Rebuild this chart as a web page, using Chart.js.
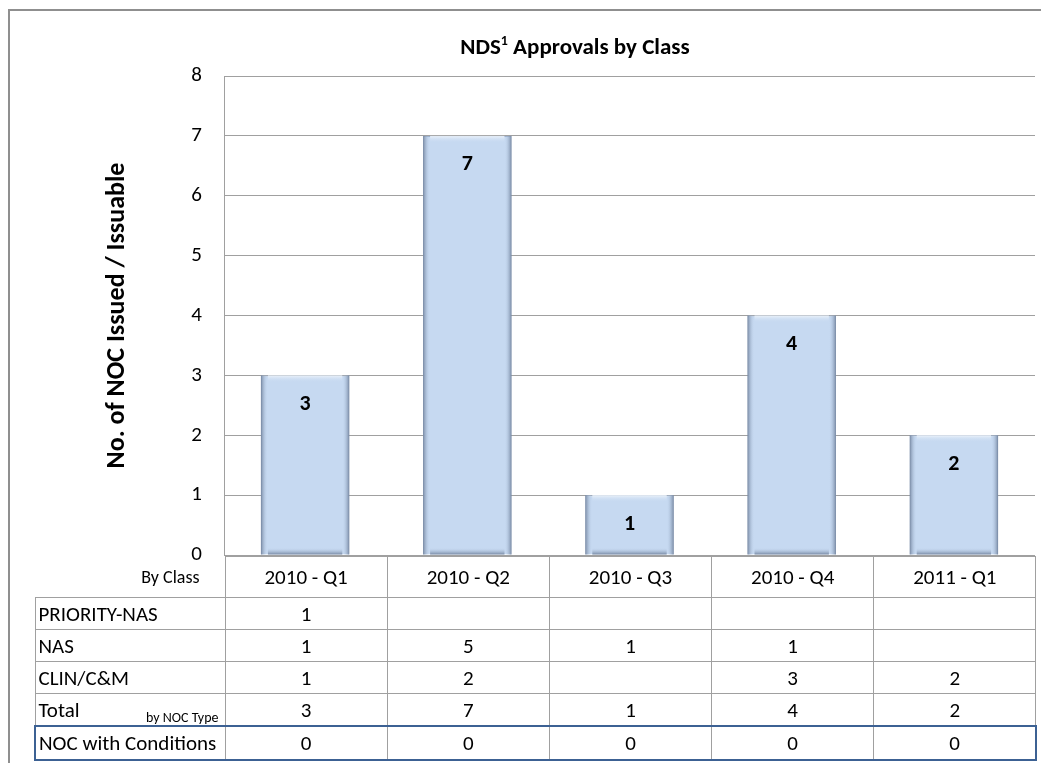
<!DOCTYPE html>
<html>
<head>
<meta charset="utf-8">
<script src="https://cdn.jsdelivr.net/npm/chart.js@4/dist/chart.umd.min.js"></script>
<style>
  html, body { margin: 0; padding: 0; background: #fff; }
  body { width: 1041px; height: 763px; position: relative; overflow: hidden;
         font-family: Carlito, Lato, "Open Sans", sans-serif; }
  .frame { position: absolute; left: 8px; top: 9px; width: 1100px; height: 800px;
           border-left: 2px solid #8f8f8f; border-top: 2px solid #8f8f8f; }
  #chart { position: absolute; left: 0; top: 0; }
  .title { position: absolute; top: 32px; left: 375px; width: 400px; text-align: center;
           font-weight: bold; font-size: 23px; color: #000; line-height: 28px; }
  .title sup { font-size: 14px; line-height: 0; }
  #dataTable { position: absolute; left: 34px; top: 556px; border-collapse: collapse;
               table-layout: fixed; font-size: 21px; color: #000; }
  #dataTable td { border: 1px solid #a0a0a0; padding: 0; text-align: center; white-space: nowrap; }
  #dataTable td.name { text-align: left; padding-left: 3px; }
  #dataTable tr.head td { height: 40px; }
  #dataTable tr.head td.corner { border-left: none; border-top: none; text-align: right;
               font-size: 18px; padding-right: 25px; }
  #dataTable tr.row td { height: 31px; }
  #dataTable tr.total td.name { position: relative; }
  .by-type { position: absolute; right: 6px; bottom: -1px; font-size: 14px; }
  #dataTable tr.noc td { height: 32px; border-top: 2px solid #3c6193; border-bottom: 2px solid #3c6193; }
  #dataTable tr.noc td:first-child { border-left: 2px solid #3c6193; }
  #dataTable tr.noc td:last-child { border-right: 2px solid #3c6193; }
</style>
</head>
<body>
<div class="frame"></div>
<canvas id="chart" width="1041" height="763"></canvas>
<div class="title">NDS<sup>1</sup> Approvals by Class</div>
<table id="dataTable"></table>
<script>
const categories = ["2010 - Q1", "2010 - Q2", "2010 - Q3", "2010 - Q4", "2011 - Q1"];
const totals = [3, 7, 1, 4, 2];
const priorityNas = [1, null, null, null, null];
const nas = [1, 5, 1, 1, null];
const clinCM = [1, 2, null, 3, 2];
const nocWithConditions = [0, 0, 0, 0, 0];
const yTicks = [0, 1, 2, 3, 4, 5, 6, 7, 8];

const fontFamily = "Carlito, Lato, 'Open Sans', sans-serif";

// soft bevel on each bar, drawn over the library's own bar rectangles
const bevelPlugin = {
  id: "bevel",
  afterDatasetsDraw(chart) {
    const ctx = chart.ctx;
    const meta = chart.getDatasetMeta(0);
    meta.data.forEach(bar => {
      const left = bar.x - bar.width / 2;
      const right = bar.x + bar.width / 2;
      const top = bar.y;
      const bottom = bar.base;
      const edge = 7;
      ctx.save();
      let g = ctx.createLinearGradient(left, 0, left + edge, 0);
      g.addColorStop(0, "rgba(115,133,160,0.95)");
      g.addColorStop(1, "rgba(198,217,241,0)");
      ctx.fillStyle = g;
      ctx.fillRect(left, top, edge, bottom - top);
      g = ctx.createLinearGradient(right, 0, right - edge, 0);
      g.addColorStop(0, "rgba(115,133,160,0.95)");
      g.addColorStop(1, "rgba(198,217,241,0)");
      ctx.fillStyle = g;
      ctx.fillRect(right - edge, top, edge, bottom - top);
      g = ctx.createLinearGradient(0, top, 0, top + edge);
      g.addColorStop(0, "rgba(235,242,250,1)");
      g.addColorStop(1, "rgba(198,217,241,0)");
      ctx.fillStyle = g;
      ctx.fillRect(left + edge, top, right - left - 2 * edge, edge);
      g = ctx.createLinearGradient(0, bottom, 0, bottom - edge);
      g.addColorStop(0, "rgba(115,133,160,0.95)");
      g.addColorStop(1, "rgba(198,217,241,0)");
      ctx.fillStyle = g;
      ctx.fillRect(left + edge, bottom - edge, right - left - 2 * edge, edge);
      ctx.restore();
    });
  }
};

const valueLabels = {
  id: "valueLabels",
  afterDatasetsDraw(chart) {
    const ctx = chart.ctx;
    const meta = chart.getDatasetMeta(0);
    ctx.save();
    ctx.font = "bold 22px " + fontFamily;
    ctx.fillStyle = "#000";
    ctx.textAlign = "center";
    ctx.textBaseline = "middle";
    meta.data.forEach((bar, i) => {
      ctx.fillText(totals[i], bar.x, bar.y + 29);
    });
    ctx.restore();
  }
};

const chart = new Chart(document.getElementById("chart"), {
  type: "bar",
  data: {
    labels: categories,
    datasets: [{
      label: "Total",
      data: totals,
      backgroundColor: "#c6d9f1",
      borderColor: "#9aaecb",
      borderWidth: 1,
      categoryPercentage: 1,
      barPercentage: 0.545
    }]
  },
  options: {
    responsive: false,
    animation: false,
    layout: { padding: { left: 98, top: 76, right: 6, bottom: 208 } },
    plugins: {
      legend: { display: false },
      title: { display: false },
      tooltip: { enabled: false }
    },
    scales: {
      x: { display: false },
      y: {
        min: 0,
        max: 8,
        afterBuildTicks: scale => { scale.ticks = yTicks.map(v => ({ value: v })); },
        afterFit: scale => { scale.width = 126; },
        ticks: { color: "#000", padding: 22, font: { family: fontFamily, size: 21 } },
        grid: { color: "#a0a0a0", drawTicks: false },
        border: { color: "#a0a0a0" },
        title: {
          display: true,
          text: "No. of NOC Issued / Issuable",
          color: "#000",
          font: { family: fontFamily, size: 26, weight: "bold" }
        }
      }
    }
  },
  plugins: [bevelPlugin, valueLabels]
});

// table below the plot, columns taken from the chart area
const area = chart.chartArea;
const table = document.getElementById("dataTable");
const colW = (area.right - area.left) / categories.length;
let html = "<colgroup><col style='width:" + (area.left - 34) + "px'>";
categories.forEach(() => { html += "<col style='width:" + colW + "px'>"; });
html += "</colgroup>";
html += "<tr class='head'><td class='corner'>By Class</td>";
categories.forEach(c => { html += "<td>" + c + "</td>"; });
html += "</tr>";
const rows = [
  ["PRIORITY-NAS", priorityNas, "row"],
  ["NAS", nas, "row"],
  ["CLIN/C&amp;M", clinCM, "row"],
  ["Total", totals, "row total"],
  ["NOC with Conditions", nocWithConditions, "noc"]
];
rows.forEach(r => {
  html += "<tr class='" + r[2] + "'><td class='name'>" + r[0];
  if (r[0] === "Total") html += "<span class='by-type'>by NOC Type</span>";
  html += "</td>";
  r[1].forEach(v => { html += "<td>" + (v === null ? "" : v) + "</td>"; });
  html += "</tr>";
});
table.innerHTML = html;
table.style.width = (area.right - 34) + "px";
</script>
</body>
</html>
